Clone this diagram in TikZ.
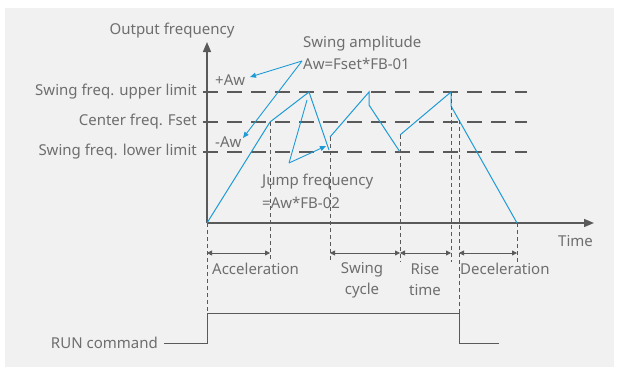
\documentclass[tikz,border=0pt]{standalone}
\usepackage{fontspec}
\setmainfont{Noto Sans}
\usetikzlibrary{arrows.meta}
\definecolor{txtgray}{HTML}{6E6E6E}
\definecolor{linegray}{HTML}{5A5A5A}
\definecolor{swingblue}{HTML}{1E9BD7}
\definecolor{bggray}{HTML}{F1F1F1}
\begin{document}
\begin{tikzpicture}[x=1pt,y=-1pt,
  lbl/.style={text=txtgray,font=\fontsize{15}{21}\selectfont,inner sep=0pt},
  axis/.style={linegray,line width=1.4pt,-{Triangle[length=10pt,width=8pt]}},
  level/.style={linegray,line width=1.3pt,dash pattern=on 15pt off 9pt},
  guide/.style={linegray,line width=0.8pt,dash pattern=on 4pt off 3pt},
  curve/.style={swingblue,line width=1pt},
  note/.style={swingblue,line width=0.9pt,-{Triangle[length=6pt,width=5pt]}},
  span/.style={linegray,line width=0.8pt,{Triangle[length=5pt,width=5pt]}-{Triangle[length=5pt,width=5pt]}},
  runline/.style={linegray,line width=1pt}]
\fill[bggray] (5,8) rectangle (614,367);
\useasboundingbox (0,0) rectangle (618,372);
%\draw[help lines] (0,0) grid (618,372);

% axes
\coordinate (O) at (207,223);
\coordinate (ytop) at (207,42);
\coordinate (xend) at (594,223);
\draw[axis] (O) -- (ytop);
\draw[axis] (O) -- (xend);
\node[lbl] (yname) at (172,31) {Output frequency};
\node[lbl,anchor=west] (tname) at (558,241) {Time};

% swing levels
\foreach \lev/\yy/\txt in {up/92/Swing freq. upper limit,mid/122/Center freq. Fset,low/152/Swing freq. lower limit}{
  \coordinate (\lev0) at (203,\yy);
  \coordinate (\lev1) at (527,\yy);
  \draw[level] (\lev0) -- (\lev1);
  \node[lbl,anchor=east] (\lev lbl) at (197,\yy) {\txt};
}
\node[lbl,anchor=west] (plusaw) at (215,80) {+Aw};
\node[lbl,anchor=west] (minusaw) at (215,142) {-Aw};

% output frequency
\coordinate (p1) at (270,122);
\coordinate (p2) at (309,92);
\coordinate (p3) at (329,150);
\coordinate (p4) at (330,137);
\coordinate (p5) at (369,92);
\coordinate (p6) at (369,105);
\coordinate (p7) at (400,152);
\coordinate (p8) at (400,135);
\coordinate (p9) at (451,92);
\coordinate (p10) at (451,106);
\coordinate (p11) at (517,223);
\coordinate (q1) at (459,120);
\draw[curve] (O) -- (p1) -- (p2) -- (p3);
\draw[curve] (p4) -- (p5) -- (p6) -- (p7);
\draw[curve] (p8) -- (p9) -- (p10) -- (p11);

% notes
\node[lbl,anchor=west] (ampA) at (303,44) {Swing amplitude};
\node[lbl,anchor=west] (ampB) at (303,64) {Aw=Fset*FB-01};
\coordinate (amp) at (302,61);
\draw[note] (amp) -- (250,77);
\draw[note] (amp) -- (243,138);
\node[lbl,anchor=west] (jmpA) at (262,182) {Jump frequency};
\node[lbl,anchor=west] (jmpB) at (262,203) {=Aw*FB-02};
\coordinate (jmp) at (289,163);
\draw[swingblue,line width=0.9pt] (jmp) -- (307,100);
\draw[note] (jmp) -- (326,146);

% guides
\coordinate (r1) at (207,313);
\coordinate (r2) at (459,313);
\draw[guide] (O) -- (r1);
\draw[guide] (p1) -- (270,260);
\draw[guide] (p4) -- (330,260);
\draw[guide] (p8) -- (400,262);
\draw[guide] (p9) -- (451,262);
\draw[guide] (q1) -- (r2);
\draw[guide] (p11) -- (517,262);

% spans
\draw[span] (207,253) -- (270,253);
\draw[span] (330,253) -- (400,253);
\draw[span] (400,253) -- (451,253);
\draw[span] (459,253) -- (517,253);
\node[lbl,anchor=west] (acc) at (212,269) {Acceleration};
\node[lbl,align=center] (swc) at (362,280) {Swing\\cycle};
\node[lbl,align=center] (rise) at (425,280) {Rise\\time};
\node[lbl,anchor=west] (dec) at (460,269) {Deceleration};

% run command
\node[lbl,anchor=east] (run) at (158,343) {RUN command};
\draw[runline] (164,343) -- (207,343) -- (r1) -- (r2) -- (459,343) -- (499,343);
\end{tikzpicture}
\end{document}
